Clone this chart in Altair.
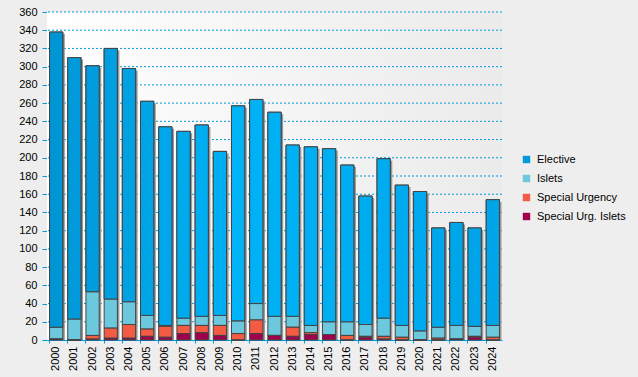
import altair as alt
import pandas as pd

years = [str(y) for y in range(2000, 2025)]
elective = [324, 287, 248, 275, 256, 235, 218, 205, 210, 180, 236, 224, 224, 188, 196, 190, 172, 141, 175, 154, 153, 109, 113, 108, 138]
islets = [13, 23, 48, 32, 25, 15, 1, 8, 10, 11, 14, 18, 21, 12, 8, 14, 15, 13, 20, 13, 10, 12, 15, 11, 13]
special_urgency = [0, 0, 4, 11, 15, 8, 12, 9, 8, 11, 7, 15, 0, 10, 2, 0, 5, 1, 3, 3, 0, 2, 0, 1, 3]
special_urg_islets = [1, 0, 1, 2, 2, 4, 3, 7, 8, 5, 0, 7, 5, 4, 6, 6, 0, 3, 1, 0, 0, 0, 1, 3, 0]
y_ticks = list(range(0, 361, 20))

series_names = ["Elective", "Islets", "Special Urgency", "Special Urg. Islets"]
series_colors = ["#0099dc", "#6cc8dd", "#f35b42", "#a1004e"]
stack_order = {"Special Urg. Islets": 0, "Special Urgency": 1, "Islets": 2, "Elective": 3}

rows = []
for i, yr in enumerate(years):
    for name, vals in zip(series_names, [elective, islets, special_urgency, special_urg_islets]):
        rows.append({"Year": yr, "Series": name, "Value": vals[i], "ord": stack_order[name]})
df = pd.DataFrame(rows)
base = [b + c + d for b, c, d in zip(islets, special_urgency, special_urg_islets)]
totals = pd.DataFrame({"Year": years,
                       "YearNum": [int(y) for y in years],
                       "Base": base,
                       "Total": [a + b for a, b in zip(elective, base)]})
grid = pd.DataFrame({"tick": y_ticks[1:]})

W, H = 455, 328
xscale = alt.Scale(paddingInner=0.27, paddingOuter=0.14)
yscale = alt.Scale(domain=[0, 360], nice=False)

xaxis = alt.Axis(labelAngle=-90, labelAlign="right", labelBaseline="middle",
                 bandPosition=0, tickSize=3, labelPadding=3, domainColor="#0099dc",
                 tickColor="#0099dc", labelColor="#000000", labelFontSize=11,
                 labelFont="Liberation Sans", grid=False)
yaxis = alt.Axis(values=y_ticks, tickSize=5, labelPadding=5, domainColor="#0099dc",
                 tickColor="#0099dc", labelColor="#000000", labelFontSize=11,
                 labelFont="Liberation Sans", grid=False)

bg = alt.Chart(alt.Data(values=[{}])).mark_rect(
    color=alt.LinearGradient(gradient="linear", x1=0, y1=0, x2=1, y2=0,
                             stops=[alt.GradientStop(color="#ffffff", offset=0),
                                    alt.GradientStop(color="#ebebeb", offset=1)])
).encode(x=alt.value(0), x2=alt.value(W), y=alt.value(0), y2=alt.value(H))

rules = alt.Chart(grid).mark_rule(color="#0099dc", strokeDash=[2, 2], strokeWidth=1).encode(
    y=alt.Y("tick:Q", scale=yscale, axis=yaxis, title=None)
)

shadow = alt.Chart(totals).mark_bar(color="#999999", xOffset=2, yOffset=2, clip=True).encode(
    x=alt.X("Year:O", scale=xscale, axis=xaxis, title=None),
    y=alt.Y("Total:Q", scale=yscale, axis=yaxis, title=None),
)

bars = alt.Chart(df).mark_bar(stroke="#444444", strokeWidth=1).encode(
    x=alt.X("Year:O", scale=xscale, title=None, axis=xaxis),
    y=alt.Y("sum(Value):Q", scale=yscale, title=None, stack="zero", axis=yaxis),
    color=alt.Color("Series:N", scale=alt.Scale(domain=series_names, range=series_colors),
                    legend=alt.Legend(title=None, orient="none", legendX=474, legendY=142,
                                      symbolType="square", symbolSize=55, symbolStrokeWidth=0,
                                      labelFontSize=11, labelFont="Liberation Sans",
                                      labelColor="#000000", rowPadding=7, labelOffset=5)),
    order=alt.Order("ord:Q", sort="ascending"),
)

elective_shade = alt.Chart(totals).mark_bar(stroke="#444444", strokeWidth=1).encode(
    x=alt.X("Year:O", scale=xscale, title=None, axis=xaxis),
    y=alt.Y("Total:Q", scale=yscale, title=None, axis=yaxis),
    y2=alt.Y2("Base:Q"),
    fill=alt.Fill("YearNum:Q", legend=None,
                  scale=alt.Scale(domain=[2000, 2004, 2010, 2016, 2024],
                                  range=["#0096d6", "#00a2e4", "#00b2f6", "#00adf1", "#00a4e8"],
                                  interpolate="rgb")),
)

chart = alt.layer(bg, rules, shadow, bars, elective_shade).properties(
    width=W, height=H,
    background="#eeeeee",
    padding={"left": 47, "top": 12, "right": 136, "bottom": 37},
    autosize=alt.AutoSizeParams(type="none"),
).configure_view(stroke=None)

chart.save("out.html", embed_options={"renderer": "svg", "actions": False})
